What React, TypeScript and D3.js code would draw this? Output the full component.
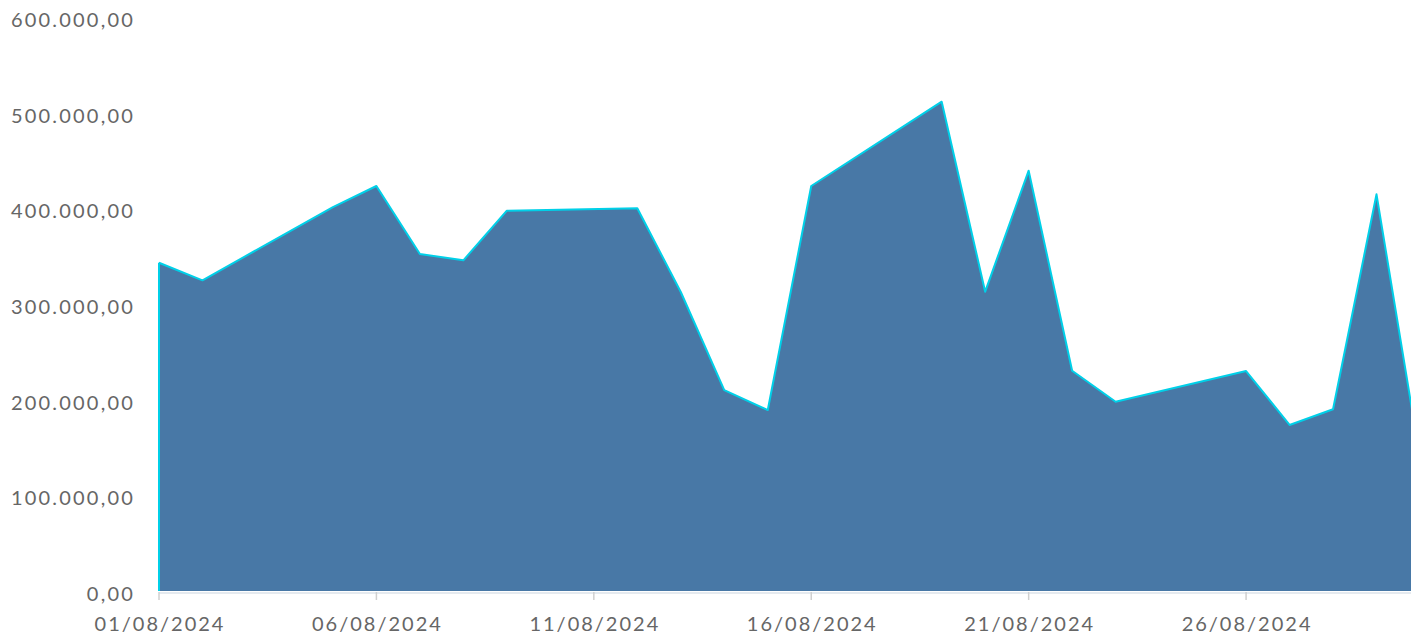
import React, { useRef, useEffect } from 'react'
import * as d3 from 'd3'

// business days of August 2024 and their totals
const dates = [
  '01/08/2024', '02/08/2024', '05/08/2024', '06/08/2024', '07/08/2024', '08/08/2024',
  '09/08/2024', '12/08/2024', '13/08/2024', '14/08/2024', '15/08/2024', '16/08/2024',
  '19/08/2024', '20/08/2024', '21/08/2024', '22/08/2024', '23/08/2024', '26/08/2024',
  '27/08/2024', '28/08/2024', '29/08/2024', '30/08/2024',
]
const values = [
  344200, 325800, 402400, 424400, 353300, 346700,
  398600, 401100, 313600, 211100, 190200, 424400,
  512500, 313900, 440400, 231300, 198900, 231000,
  174600, 191000, 415700, 140000,
]
const xTicks = ['01/08/2024', '06/08/2024', '11/08/2024', '16/08/2024', '21/08/2024', '26/08/2024']
const yTicks = [0, 100000, 200000, 300000, 400000, 500000, 600000]

const parse = d3.timeParse('%d/%m/%Y')
const fmtNum = (v: number) => {
  const s = d3.format(',.2f')(v)
  return s.replace(/,/g, '#').replace('.', ',').replace(/#/g, '.')
}

export default function App() {
  const ref = useRef<SVGSVGElement>(null)
  const layout = { width: 1411, height: 635, left: 159, right: 1420, top: 18, bottom: 592 }

  useEffect(() => {
    const svg = d3.select(ref.current)
    svg.selectAll('*').remove()

    const data = dates.map((d, i) => ({ date: parse(d) as Date, value: values[i] }))

    const x = d3.scaleTime()
      .domain([parse('01/08/2024') as Date, parse('30/08/2024') as Date])
      .range([layout.left, layout.right])
    const y = d3.scaleLinear().domain([0, 600000]).range([layout.bottom, layout.top])

    const font = 'Lato, "Open Sans", sans-serif'

    // y labels
    svg.append('g')
      .selectAll('text')
      .data(yTicks)
      .join('text')
      .attr('x', 135)
      .attr('y', d => y(d) + 4)
      .attr('text-anchor', 'end')
      .attr('dominant-baseline', 'middle')
      .attr('fill', '#666')
      .style('font-family', font)
      .style('font-size', '20px')
      .style('letter-spacing', '2.2px')
      .text(d => fmtNum(d))

    // axis line + ticks
    svg.append('line')
      .attr('x1', layout.left).attr('x2', layout.width)
      .attr('y1', layout.bottom + 1).attr('y2', layout.bottom + 1)
      .attr('stroke', '#dce3ea').attr('stroke-width', 1.5)

    const xt = svg.append('g')
      .selectAll('g')
      .data(xTicks.map(t => parse(t) as Date))
      .join('g')
      .attr('transform', d => `translate(${x(d)},0)`)
    xt.append('line')
      .attr('y1', layout.bottom).attr('y2', layout.bottom + 8)
      .attr('stroke', '#d0d0d0').attr('stroke-width', 1.5)
    xt.append('text')
      .attr('x', 1)
      .attr('y', 626)
      .attr('text-anchor', 'middle')
      .attr('dominant-baseline', 'middle')
      .attr('fill', '#666')
      .style('font-family', font)
      .style('font-size', '20px')
      .style('letter-spacing', '2px')
      .text(d => d3.timeFormat('%d/%m/%Y')(d))

    const area = d3.area<{ date: Date, value: number }>()
      .x(d => x(d.date))
      .y0(layout.bottom - 1)
      .y1(d => y(d.value))
    const line = d3.line<{ date: Date, value: number }>()
      .x(d => x(d.date))
      .y(d => y(d.value))

    svg.append('path')
      .datum(data)
      .attr('d', area)
      .attr('fill', '#4878a6')

    svg.append('path')
      .datum(data)
      .attr('d', line)
      .attr('fill', 'none')
      .attr('stroke', '#00d0e8')
      .attr('stroke-width', 2)
      .attr('stroke-linejoin', 'round')

    // left edge of area has the same cyan stroke
    svg.append('line')
      .attr('x1', x(data[0].date)).attr('x2', x(data[0].date))
      .attr('y1', y(data[0].value)).attr('y2', layout.bottom - 1)
      .attr('stroke', '#00d0e8').attr('stroke-width', 2)
  }, [])

  return (
    <svg
      ref={ref}
      width={layout.width}
      height={layout.height}
      style={{ position: 'absolute', left: 0, top: 0, background: '#fff' }}
    />
  )
}
